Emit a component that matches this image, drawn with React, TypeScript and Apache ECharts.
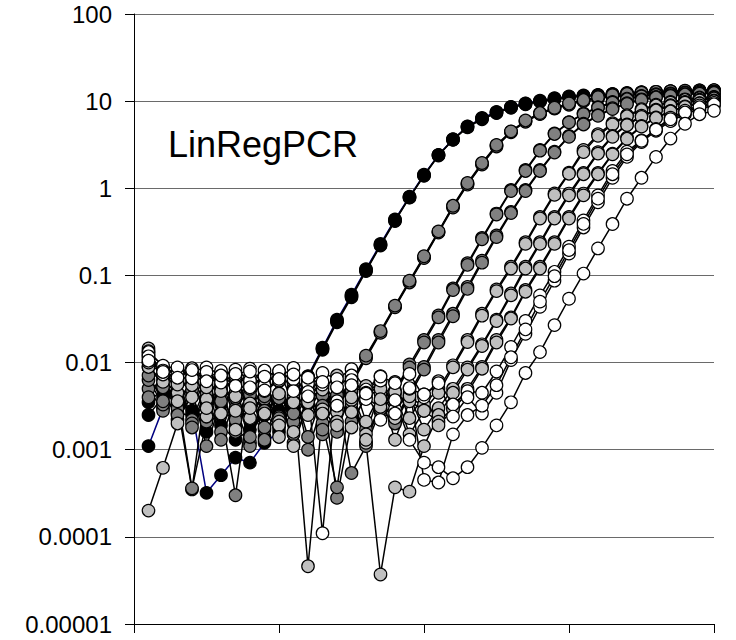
import React, { useEffect, useRef } from "react";
import * as echarts from "echarts";

// PCR cycle numbers (x) and baseline-corrected fluorescence per reaction (y, log scale)
const cycles = [
  1, 2, 3, 4, 5, 6, 7, 8, 9, 10, 11, 12, 13, 14, 15, 16, 17, 18, 19, 20,
  21, 22, 23, 24, 25, 26, 27, 28, 29, 30, 31, 32, 33, 34, 35, 36, 37, 38, 39, 40,
];

const yTickLabels = ["0.00001", "0.0001", "0.001", "0.01", "0.1", "1", "10", "100"];

// black reactions (highest input)
const blackA1 = [0.0025, 0.004, 0.0026, 0.0025, 0.0032, 0.0019, 0.0013, 0.0017, 0.0025, 0.0018,
  0.0034, 0.0069, 0.0145, 0.03, 0.058, 0.115, 0.224, 0.43, 0.79, 1.41,
  2.4, 3.63, 5.13, 6.31, 7.41, 8.51, 9.33, 10.0, 10.7, 11.2,
  11.5, 11.7, 12.0, 12.3, 12.6, 12.6, 12.9, 12.9, 13.2, 13.2];
const blackA2 = [0.0011, 0.003, 0.0035, 0.0028, 0.00032, 0.00051, 0.00081, 0.00071, 0.0012, 0.0016,
  0.0036, 0.007, 0.0148, 0.031, 0.06, 0.118, 0.23, 0.44, 0.8, 1.43,
  2.42, 3.65, 5.1, 6.4, 7.5, 8.6, 9.4, 10.1, 10.8, 11.3,
  11.6, 11.8, 12.1, 12.4, 12.7, 12.8, 13.0, 13.1, 13.3, 13.4];
const blackA3 = [0.0035, 0.005, 0.0022, 0.0042, 0.0016, 0.0033, 0.0019, 0.0031, 0.0014, 0.0028,
  0.0032, 0.0066, 0.014, 0.029, 0.056, 0.112, 0.22, 0.42, 0.78, 1.39,
  2.38, 3.6, 5.0, 6.2, 7.3, 8.4, 9.2, 9.9, 10.5, 11.0,
  11.4, 11.6, 11.9, 12.2, 12.4, 12.5, 12.7, 12.8, 13.0, 13.1];

// dark grey reactions
const darkB1 = [0.005, 0.0028, 0.0065, 0.0022, 0.0055, 0.0016, 0.0045, 0.0012, 0.0038, 0.002,
  0.005, 0.0014, 0.0042, 0.0033, 0.0058, 0.0117, 0.0224, 0.044, 0.085, 0.162,
  0.316, 0.62, 1.12, 1.91, 3.09, 4.47, 5.9, 7.2, 8.3, 9.3,
  10.2, 11.0, 11.5, 11.9, 12.2, 12.5, 12.7, 12.9, 13.0, 13.1];
const darkB2 = [0.0089, 0.0056, 0.0032, 0.00035, 0.0058, 0.0026, 0.0003, 0.0048, 0.0017, 0.0062,
  0.0021, 0.0045, 0.0015, 0.003, 0.0056, 0.0112, 0.0219, 0.043, 0.083, 0.158,
  0.31, 0.6, 1.1, 1.87, 3.02, 4.4, 5.8, 7.1, 8.2, 9.1,
  10.0, 10.7, 11.2, 11.6, 12.0, 12.3, 12.5, 12.6, 12.8, 12.9];
const darkB3 = [0.012, 0.007, 0.004, 0.00036, 0.0021, 0.0063, 0.003, 0.0011, 0.0052, 0.0024,
  0.0036, 0.0055, 0.0019, 0.0035, 0.006, 0.012, 0.023, 0.045, 0.087, 0.166,
  0.32, 0.63, 1.15, 1.95, 3.15, 4.5, 6.0, 7.3, 8.4, 9.4,
  10.3, 11.1, 11.7, 12.1, 12.5, 12.8, 13.0, 13.2, 13.3, 13.4];
const darkC1 = [0.0063, 0.0033, 0.0058, 0.002, 0.0047, 0.0013, 0.0039, 0.006, 0.0018, 0.0044,
  0.0012, 0.0034, 0.0055, 0.00028, 0.0021, 0.004, 0.003, 0.0048, 0.0095, 0.0182,
  0.0347, 0.0708, 0.138, 0.269, 0.513, 0.955, 1.62, 2.75, 4.27, 5.75,
  7.24, 8.51, 9.77, 10.7, 11.5, 12.0, 12.3, 12.6, 12.9, 12.9];
const darkC2 = [0.01, 0.0052, 0.003, 0.0066, 0.0024, 0.0051, 0.0016, 0.0043, 0.0028, 0.0061,
  0.0015, 0.0038, 0.002, 0.00037, 0.0046, 0.0017, 0.0027, 0.0044, 0.0088, 0.017,
  0.033, 0.068, 0.132, 0.26, 0.5, 0.93, 1.58, 2.7, 4.2, 5.7,
  7.1, 8.4, 9.6, 10.5, 11.3, 11.8, 12.1, 12.4, 12.6, 12.7];
const darkC3 = [0.004, 0.0075, 0.0025, 0.0048, 0.0011, 0.0036, 0.0055, 0.0014, 0.0041, 0.0023,
  0.0058, 0.001, 0.0032, 0.0016, 0.0048, 0.0012, 0.0035, 0.0022, 0.0045, 0.0089,
  0.0182, 0.0363, 0.074, 0.148, 0.288, 0.537, 0.955, 1.62, 2.63, 3.98,
  5.5, 6.9, 8.3, 9.5, 10.5, 11.2, 11.7, 12.0, 12.3, 12.6];
const darkC4 = [0.0071, 0.0036, 0.0062, 0.0018, 0.0043, 0.0064, 0.0022, 0.005, 0.0013, 0.0039,
  0.0026, 0.0053, 0.0017, 0.0042, 0.00054, 0.0011, 0.0029, 0.002, 0.0042, 0.0083,
  0.017, 0.034, 0.07, 0.14, 0.275, 0.52, 0.93, 1.58, 2.57, 3.9,
  5.4, 6.8, 8.1, 9.3, 10.3, 11.0, 11.5, 11.9, 12.2, 12.4];

// light grey reactions
const lightD1 = [0.0145, 0.0063, 0.0078, 0.004, 0.0066, 0.0026, 0.0059, 0.0034, 0.0072, 0.0021,
  0.0049, 0.0064, 0.0029, 0.0052, 0.0018, 0.0045, 0.006, 0.0024, 0.0038, 0.0033,
  0.005, 0.0093, 0.0182, 0.0363, 0.069, 0.126, 0.24, 0.468, 0.871, 1.51,
  2.75, 4.17, 5.6, 6.9, 8.1, 9.1, 9.8, 10.5, 11.0, 11.2];
const lightD2 = [0.011, 0.0085, 0.0045, 0.007, 0.0031, 0.0056, 0.0075, 0.0023, 0.0047, 0.0062,
  0.0016, 0.0039, 0.0058, 0.0027, 0.0066, 0.0021, 0.0044, 0.0013, 0.0036, 0.0028,
  0.0045, 0.0088, 0.0172, 0.0345, 0.066, 0.12, 0.23, 0.45, 0.84, 1.47,
  2.6, 4.0, 5.4, 6.7, 7.9, 8.9, 9.6, 10.3, 10.8, 11.1];
const lightD3 = [0.0126, 0.0079, 0.0056, 0.008, 0.0038, 0.0069, 0.0028, 0.0054, 0.007, 0.0019,
  0.004, 0.000046, 0.0026, 0.0061, 0.0034, 0.0015, 0.005, 0.0023, 0.0041, 0.0017,
  0.003, 0.005, 0.0088, 0.0162, 0.031, 0.062, 0.126, 0.24, 0.47, 0.87,
  1.5, 2.6, 4.0, 5.4, 6.8, 8.0, 9.0, 9.8, 10.4, 10.9];
const lightD4 = [0.0089, 0.006, 0.0036, 0.0061, 0.0024, 0.0048, 0.0067, 0.003, 0.0053, 0.0014,
  0.0043, 0.0025, 0.0057, 0.0021, 0.0037, 0.0012, 0.000037, 0.00037, 0.00033, 0.0011,
  0.0025, 0.0045, 0.0083, 0.0155, 0.03, 0.059, 0.12, 0.23, 0.45, 0.83,
  1.45, 2.5, 3.9, 5.3, 6.6, 7.8, 8.8, 9.6, 10.2, 10.7];
const lightD5 = [0.0002, 0.00062, 0.002, 0.0055, 0.003, 0.0047, 0.0017, 0.0062, 0.0026, 0.0044,
  0.0011, 0.0035, 0.0052, 0.0019, 0.004, 0.0013, 0.0031, 0.0046, 0.0015, 0.0028,
  0.0021, 0.003, 0.005, 0.0089, 0.0182, 0.033, 0.068, 0.126, 0.24, 0.47,
  0.87, 1.5, 2.5, 3.8, 5.2, 6.5, 7.7, 8.7, 9.5, 10.2];
const lightD6 = [0.0135, 0.009, 0.0071, 0.0083, 0.0052, 0.0076, 0.0041, 0.0068, 0.0057, 0.0078,
  0.0035, 0.0063, 0.0049, 0.0071, 0.0027, 0.0054, 0.0038, 0.006, 0.0023, 0.0043,
  0.0019, 0.0029, 0.0045, 0.0085, 0.017, 0.032, 0.065, 0.12, 0.23, 0.45,
  0.83, 1.45, 2.45, 3.7, 5.1, 6.4, 7.6, 8.6, 9.4, 10.0];

// white reactions (lowest input)
const whiteE1 = [0.0132, 0.0092, 0.0085, 0.0079, 0.0088, 0.0072, 0.0083, 0.0062, 0.0081, 0.0068,
  0.0087, 0.0057, 0.0076, 0.0065, 0.0084, 0.0049, 0.007, 0.0058, 0.0074, 0.004,
  0.0061, 0.0033, 0.0047, 0.0045, 0.0079, 0.0151, 0.03, 0.059, 0.11, 0.214,
  0.427, 0.83, 1.58, 2.63, 3.55, 4.79, 6.46, 7.76, 8.91, 9.55];
const whiteE2 = [0.0118, 0.0081, 0.0075, 0.0086, 0.0066, 0.008, 0.007, 0.0085, 0.0055, 0.0077,
  0.0064, 0.0046, 0.00011, 0.0052, 0.0071, 0.0038, 0.0062, 0.0029, 0.005, 0.0043,
  0.0058, 0.0024, 0.004, 0.0026, 0.0045, 0.0107, 0.0214, 0.0437, 0.087, 0.178,
  0.355, 0.69, 1.32, 2.29, 3.39, 4.57, 5.89, 7.08, 8.13, 8.91];
const whiteE3 = [0.01, 0.0073, 0.0088, 0.0066, 0.0078, 0.0059, 0.0074, 0.0052, 0.0069, 0.008,
  0.0047, 0.0067, 0.0056, 0.0036, 0.0063, 0.0045, 0.0069, 0.0026, 0.0051, 0.00045,
  0.00042, 0.0015, 0.0025, 0.0032, 0.0055, 0.0115, 0.024, 0.05, 0.098, 0.195,
  0.39, 0.76, 1.45, 2.45, 3.5, 4.7, 6.2, 7.4, 8.5, 9.2];
const whiteE4 = [0.0105, 0.0078, 0.0067, 0.0082, 0.0061, 0.0071, 0.0054, 0.0079, 0.0048, 0.0065,
  0.0073, 0.0041, 0.006, 0.0032, 0.0055, 0.0044, 0.0022, 0.0037, 0.0013, 0.00071,
  0.00063, 0.00047, 0.00063, 0.00105, 0.0019, 0.0035, 0.0076, 0.0132, 0.0269, 0.054,
  0.105, 0.204, 0.389, 0.759, 1.32, 2.29, 3.72, 5.5, 7.08, 7.76];

const BLACK = "#000000";
const DARK = "#808080";
const LIGHT = "#c0c0c0";
const WHITE = "#ffffff";
const NAVY = "#000080";

const reactions: { name: string; values: number[]; fill: string; line?: string }[] = [
  { name: "A2", values: blackA2, fill: BLACK, line: NAVY },
  { name: "A1", values: blackA1, fill: BLACK },
  { name: "A3", values: blackA3, fill: BLACK },
  { name: "B1", values: darkB1, fill: DARK },
  { name: "B2", values: darkB2, fill: DARK },
  { name: "B3", values: darkB3, fill: DARK },
  { name: "C1", values: darkC1, fill: DARK },
  { name: "C2", values: darkC2, fill: DARK },
  { name: "C3", values: darkC3, fill: DARK },
  { name: "C4", values: darkC4, fill: DARK },
  { name: "D1", values: lightD1, fill: LIGHT },
  { name: "D2", values: lightD2, fill: LIGHT },
  { name: "D3", values: lightD3, fill: LIGHT },
  { name: "D4", values: lightD4, fill: LIGHT },
  { name: "D5", values: lightD5, fill: LIGHT },
  { name: "D6", values: lightD6, fill: LIGHT },
  { name: "E1", values: whiteE1, fill: WHITE },
  { name: "E2", values: whiteE2, fill: WHITE },
  { name: "E3", values: whiteE3, fill: WHITE },
  { name: "E4", values: whiteE4, fill: WHITE },
];

const FONT = '"Liberation Sans", Arial, Helvetica, sans-serif';

export default function App() {
  const ref = useRef<HTMLDivElement>(null);

  useEffect(() => {
    if (!ref.current) return;
    const chart = echarts.init(ref.current, null, { renderer: "svg" });

    const series = reactions.map((r) => ({
      name: r.name,
      type: "line" as const,
      data: cycles.map((c, i) => [c, r.values[i]]),
      symbol: "circle",
      symbolSize: 12.5,
      showSymbol: true,
      itemStyle: { color: r.fill, borderColor: "#000", borderWidth: 1.2 },
      lineStyle: { color: r.line ?? "#000", width: 1.5 },
      emphasis: { disabled: true },
    }));

    chart.setOption({
      animation: false,
      textStyle: { fontFamily: FONT },
      grid: { left: 134, right: 22, top: 14, bottom: 16, containLabel: false },
      xAxis: {
        type: "value",
        min: 0,
        max: 40,
        interval: 10,
        axisLine: { show: true, lineStyle: { color: "#000", width: 1 } },
        axisTick: { show: true, length: 9, lineStyle: { color: "#000" } },
        axisLabel: { show: false },
        splitLine: { show: false },
      },
      yAxis: {
        type: "log",
        logBase: 10,
        min: 0.00001,
        max: 100,
        splitNumber: 7,
        axisLine: { show: true, lineStyle: { color: "#000", width: 1 } },
        axisTick: { show: true, length: 9, lineStyle: { color: "#000" } },
        axisLabel: {
          fontSize: 24,
          color: "#000",
          fontFamily: FONT,
          margin: 22,
          formatter: (v: number) => yTickLabels[Math.round(Math.log10(v)) + 5] ?? "",
        },
        splitLine: { show: true, lineStyle: { color: "#6a6a6a", width: 1 } },
      },
      graphic: [
        {
          type: "text",
          left: 168,
          top: 126,
          style: { text: "LinRegPCR", font: `36px ${FONT}`, fill: "#000" },
          z: 100,
        },
      ],
      series,
    });

    return () => chart.dispose();
  }, []);

  return (
    <div
      ref={ref}
      style={{ position: "absolute", left: 0, top: 0, width: 736, height: 640 }}
    />
  );
}
